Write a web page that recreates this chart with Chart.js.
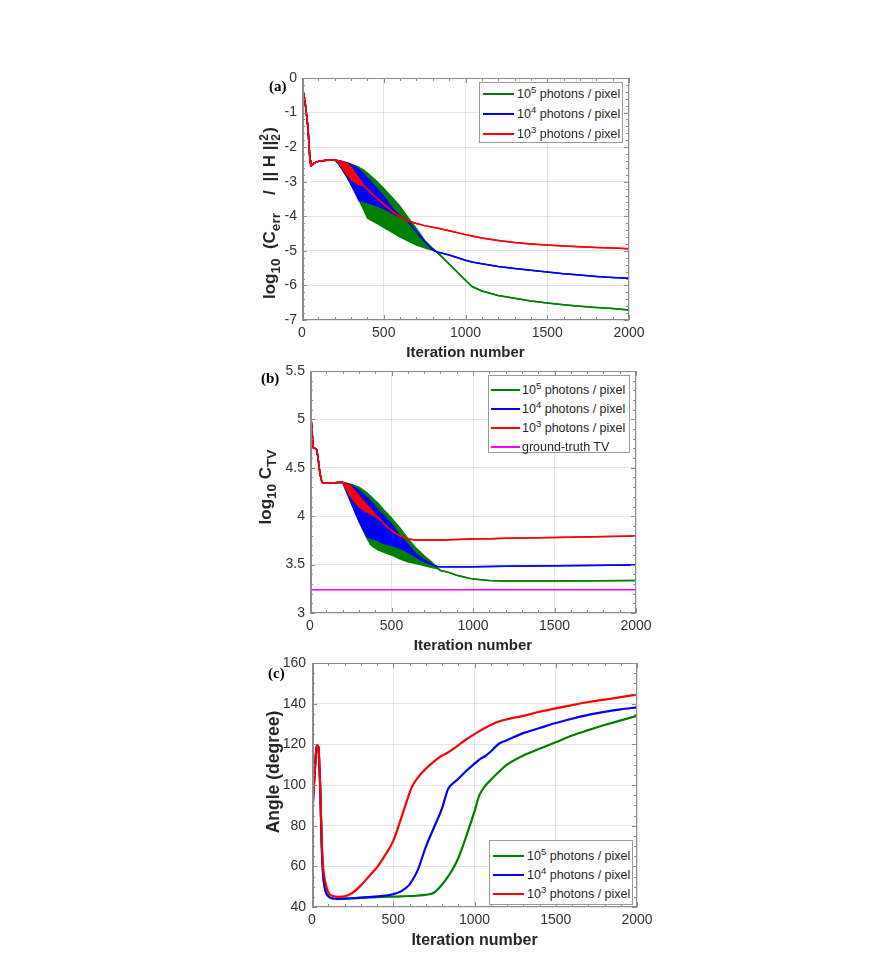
<!DOCTYPE html>
<html><head><meta charset="utf-8">
<script src="https://cdn.jsdelivr.net/npm/chart.js@4.4.1/dist/chart.umd.min.js"></script>
<style>
html,body{margin:0;padding:0;background:#fff;}
body{width:873px;height:953px;position:relative;overflow:hidden;font-family:"Liberation Sans",Arial,sans-serif;}
canvas{position:absolute;}
.legend{position:absolute;background:#fff;border:1px solid #9a9a9a;box-sizing:border-box;font-size:12.5px;color:#262626;}
.row{position:absolute;left:0;right:0;white-space:nowrap;}
.swatch{position:absolute;height:2px;}
.ltxt{position:absolute;}
.sup{font-size:9.5px;position:relative;top:-5px;}
.plabel{position:absolute;font-family:"Liberation Serif","Times New Roman",serif;font-weight:bold;font-size:15px;line-height:18px;color:#000;}
.vt{position:absolute;text-align:center;transform:rotate(-90deg);font-weight:bold;color:#262626;white-space:nowrap;}
.sb{font-size:13.5px;position:relative;top:4.5px;}
.stk{display:inline-block;position:relative;width:8px;height:0;}
.stk span{position:absolute;left:0;font-size:12px;line-height:12px;}
</style></head>
<body>
<script>
// ---------------- DATA ----------------
const seriesColors = ['#008000', '#0000ff', '#ff0000'];
const photonExp = [5, 4, 3];
const xTicksMajor = 500;

// Panel (a): log10(Cerr/||H||^2)
const itA = [0,10,16,26,37,43,49,55,62,75,100,150,200,225,250,275,300,325,350,375,400,450,500,550,600,640,700,750,800,825,900,1000,1040,1100,1200,1300,1400,1500,1600,1700,1800,1900,2000];
const aGreenUp = [-0.25,-0.45,-0.6,-0.98,-1.46,-1.95,-2.4,-2.54,-2.52,-2.46,-2.41,-2.38,-2.37,-2.39,-2.43,-2.46,-2.5,-2.54,-2.59,-2.66,-2.75,-2.96,-3.2,-3.45,-3.72,-3.98,-4.36,-4.7,-4.93,-5.03,-5.38,-5.85,-6.03,-6.16,-6.29,-6.37,-6.45,-6.51,-6.56,-6.6,-6.64,-6.67,-6.71];
const aGreenLo = [-0.25,-0.45,-0.6,-0.98,-1.46,-1.95,-2.4,-2.54,-2.52,-2.46,-2.41,-2.38,-2.37,-2.49,-2.67,-2.86,-3.08,-3.31,-3.55,-3.78,-4.05,-4.18,-4.32,-4.46,-4.6,-4.69,-4.83,-4.91,-4.98,-5.03,-5.38,-5.85,-6.03,-6.16,-6.29,-6.37,-6.45,-6.51,-6.56,-6.6,-6.64,-6.67,-6.71];
const aBlueUp = [-0.25,-0.45,-0.6,-0.98,-1.46,-1.95,-2.4,-2.54,-2.52,-2.46,-2.41,-2.38,-2.37,-2.39,-2.42,-2.45,-2.5,-2.57,-2.65,-2.76,-2.9,-3.15,-3.42,-3.75,-4.0,-4.11,-4.45,-4.72,-4.97,-5.03,-5.12,-5.27,-5.32,-5.37,-5.45,-5.51,-5.56,-5.61,-5.66,-5.7,-5.74,-5.77,-5.79];
const aBlueLo = [-0.25,-0.45,-0.6,-0.98,-1.46,-1.95,-2.4,-2.54,-2.52,-2.46,-2.41,-2.38,-2.37,-2.49,-2.67,-2.86,-3.08,-3.31,-3.55,-3.57,-3.6,-3.68,-3.78,-3.9,-4.02,-4.11,-4.45,-4.72,-4.97,-5.03,-5.12,-5.27,-5.32,-5.37,-5.45,-5.51,-5.56,-5.61,-5.66,-5.7,-5.74,-5.77,-5.79];
const aRedUp = [-0.25,-0.45,-0.6,-0.98,-1.46,-1.95,-2.4,-2.54,-2.52,-2.46,-2.41,-2.38,-2.37,-2.39,-2.42,-2.47,-2.58,-2.75,-2.92,-3.1,-3.22,-3.45,-3.65,-3.85,-4.02,-4.12,-4.21,-4.27,-4.32,-4.34,-4.42,-4.53,-4.57,-4.63,-4.7,-4.76,-4.8,-4.83,-4.86,-4.88,-4.9,-4.92,-4.94];
const aRedLo = [-0.25,-0.45,-0.6,-0.98,-1.46,-1.95,-2.4,-2.54,-2.52,-2.46,-2.41,-2.38,-2.37,-2.45,-2.62,-2.8,-2.93,-3.02,-3.08,-3.12,-3.22,-3.45,-3.65,-3.85,-4.02,-4.12,-4.21,-4.27,-4.32,-4.34,-4.42,-4.53,-4.57,-4.63,-4.7,-4.76,-4.8,-4.83,-4.86,-4.88,-4.9,-4.92,-4.94];

// Panel (b): log10 C_TV
const itB = [0,6,10,14,20,30,40,45,51,61,72,82,100,150,200,250,300,350,375,400,420,450,500,550,600,650,700,750,780,800,850,900,950,1000,1100,1200,1500,2000];
const bGreenUp = [5.26,5.02,4.94,4.84,4.71,4.7,4.69,4.65,4.58,4.44,4.36,4.34,4.34,4.345,4.35,4.33,4.3,4.24,4.2,4.16,4.13,4.07,3.98,3.88,3.77,3.67,3.59,3.52,3.47,3.44,3.42,3.39,3.37,3.35,3.335,3.33,3.33,3.335];
const bGreenLo = [5.26,5.02,4.94,4.84,4.71,4.7,4.69,4.65,4.58,4.44,4.36,4.34,4.34,4.345,4.35,4.15,3.95,3.77,3.7,3.67,3.65,3.63,3.6,3.56,3.53,3.51,3.49,3.47,3.46,3.44,3.42,3.39,3.37,3.35,3.335,3.33,3.33,3.335];
const bBlueUp = [5.26,5.02,4.94,4.84,4.71,4.7,4.69,4.65,4.58,4.44,4.36,4.34,4.34,4.345,4.35,4.32,4.27,4.19,4.15,4.1,4.06,4.01,3.92,3.8,3.71,3.61,3.55,3.5,3.48,3.478,3.477,3.477,3.477,3.478,3.48,3.482,3.487,3.495];
const bBlueLo = [5.26,5.02,4.94,4.84,4.71,4.7,4.69,4.65,4.58,4.44,4.36,4.34,4.34,4.345,4.35,4.15,3.95,3.79,3.77,3.76,3.745,3.72,3.7,3.67,3.63,3.58,3.53,3.5,3.48,3.478,3.477,3.477,3.477,3.478,3.48,3.482,3.487,3.495];
const bRedUp = [5.26,5.02,4.94,4.84,4.71,4.7,4.69,4.65,4.58,4.44,4.36,4.34,4.34,4.345,4.35,4.31,4.21,4.11,4.07,4.02,3.98,3.93,3.85,3.8,3.765,3.755,3.755,3.755,3.755,3.755,3.757,3.76,3.762,3.765,3.768,3.771,3.78,3.795];
const bRedLo = [5.26,5.02,4.94,4.84,4.71,4.7,4.69,4.65,4.58,4.44,4.36,4.34,4.34,4.345,4.35,4.2,4.1,4.04,4.02,4.0,3.98,3.93,3.85,3.8,3.765,3.755,3.755,3.755,3.755,3.755,3.757,3.76,3.762,3.765,3.768,3.771,3.78,3.795];
const groundTruthTV = 3.24;

// Panel (c): Angle (degree)
const itC = [0,8,15,22,28,33,40,45,50,55,60,66,72,80,90,107,130,160,200,250,300,350,400,450,500,550,600,612,650,700,750,800,837,850,900,950,1000,1030,1070,1100,1150,1200,1300,1400,1500,1600,1700,1800,1900,2000];
const cGreen = [82,95,104,113,118.5,119.5,118.5,110,100,85,70,59,53,49,46.5,44.8,44.2,44,44.1,44.3,44.5,44.7,44.9,45,45.1,45.2,45.4,45.4,45.6,46,47,51,55,56.5,64,75,87,95,100,102.5,106.5,110,114.5,117.8,121,124.3,127,129.5,131.8,134];
const cBlue = [82,95,104,113,118.5,119.5,118.5,110,100,85,70,59,53,49,46.5,44.8,44.2,44,44.1,44.3,44.6,44.9,45.2,45.6,46.3,47.8,51,52.5,58,69.5,79,88.5,98,99.5,103,107,110.5,112.5,114.5,116.5,120.3,122,125.5,128,130.5,132.6,134.5,136,137.2,138.2];
const cRed = [82,95,104,113,118.5,119.5,118.5,110,100,86,72,62,57,53,49.5,46.5,45.4,45,45.2,47,50.5,55,59.5,65.5,72.5,84,96,98.6,103.5,108,111.5,114.5,116,116.7,119.5,122.5,125,126.5,128.3,129.5,131.2,132.3,134,136,137.7,139.3,140.8,142,143.2,144.5];

// ---------------- HELPERS ----------------
const FONT = '"Liberation Sans", Arial, sans-serif';
function pts(xs, ys) { return xs.map((x, i) => ({x: x, y: ys[i]})); }
const fmt = v => String(Math.round(v * 1000) / 1000);

const boxTicks = {
  id: 'boxTicks',
  afterDatasetsDraw(chart, args, opts) {
    const ctx = chart.ctx, a = chart.chartArea, x = chart.scales.x, y = chart.scales.y;
    ctx.save();
    ctx.strokeStyle = '#8c8c8c';
    ctx.lineWidth = 1;
    ctx.beginPath();
    for (let v = x.min; v <= x.max + 1e-9; v += opts.xMinor) {
      const px = Math.round(x.getPixelForValue(v)) + 0.5;
      const major = Math.abs(v / opts.xMajor - Math.round(v / opts.xMajor)) < 1e-6;
      const L = major ? 5 : 3;
      ctx.moveTo(px, a.bottom); ctx.lineTo(px, a.bottom - L);
      ctx.moveTo(px, a.top); ctx.lineTo(px, a.top + L);
    }
    const n = Math.round((y.max - y.min) / opts.yMinor);
    for (let k = 0; k <= n; k++) {
      const v = y.min + k * opts.yMinor;
      const py = Math.round(y.getPixelForValue(v)) + 0.5;
      const major = Math.abs((v - y.min) / opts.yMajor - Math.round((v - y.min) / opts.yMajor)) < 1e-6;
      const L = major ? 5 : 3;
      ctx.moveTo(a.left, py); ctx.lineTo(a.left + L, py);
      ctx.moveTo(a.right, py); ctx.lineTo(a.right - L, py);
    }
    ctx.stroke();
    ctx.strokeRect(Math.round(a.left) + 0.5, Math.round(a.top) + 0.5, Math.round(a.right - a.left) - 1, Math.round(a.bottom - a.top) - 1);
    ctx.lineWidth = 2;
    ctx.beginPath();
    ctx.moveTo(Math.round(a.left) + 1, a.top); ctx.lineTo(Math.round(a.left) + 1, a.bottom);
    ctx.stroke();
    ctx.restore();
  }
};

function makeChart(cfg) {
  const cv = document.createElement('canvas');
  cv.width = cfg.w; cv.height = cfg.h;
  cv.style.left = cfg.left + 'px'; cv.style.top = cfg.top + 'px';
  cv.style.width = cfg.w + 'px'; cv.style.height = cfg.h + 'px';
  document.body.appendChild(cv);
  return new Chart(cv.getContext('2d'), {
    type: 'line',
    data: {datasets: cfg.datasets},
    plugins: [boxTicks],
    options: {
      responsive: false, animation: false, devicePixelRatio: 1,
      layout: {padding: {left: 0, top: cfg.padTop, right: cfg.padRight, bottom: 0}},
      elements: {point: {radius: 0, hoverRadius: 0}, line: {tension: 0, borderJoinStyle: 'round', borderCapStyle: 'round'}},
      plugins: {legend: {display: false}, tooltip: {enabled: false},
        boxTicks: {xMinor: 100, xMajor: xTicksMajor, yMinor: cfg.yMinor, yMajor: cfg.yStep}},
      events: [],
      scales: {
        x: {type: 'linear', min: 0, max: 2000,
          ticks: {stepSize: xTicksMajor, font: {family: FONT, size: 14}, color: '#333', padding: 5, maxRotation: 0, callback: fmt},
          grid: {color: 'rgba(0,0,0,0.10)', drawTicks: false},
          border: {display: false},
          title: {display: true, text: 'Iteration number', color: '#262626', padding: {top: 0, bottom: 0},
            font: {family: FONT, size: cfg.xTitleSize, weight: 'bold'}},
          afterFit: s => { s.height = cfg.xAxisH; }
        },
        y: {type: 'linear', min: cfg.yMin, max: cfg.yMax,
          ticks: {stepSize: cfg.yStep, font: {family: FONT, size: 14}, color: '#333', padding: cfg.yPad, callback: fmt},
          grid: {color: 'rgba(0,0,0,0.10)', drawTicks: false},
          border: {display: false},
          afterFit: s => { s.width = cfg.yAxisW; }
        }
      }
    }
  });
}

function bandSets(xs, lists, lw) {
  const ds = [];
  lists.forEach(([up, lo, col]) => {
    ds.push({data: pts(xs, lo), borderColor: col, borderWidth: lw, fill: false});
    ds.push({data: pts(xs, up), borderColor: col, borderWidth: lw, backgroundColor: col, fill: '-1'});
  });
  return ds;
}

function addLegend(L, labels, colors) {
  const d = document.createElement('div');
  d.className = 'legend';
  Object.assign(d.style, {left: L.left + 'px', top: L.top + 'px', width: L.width + 'px', height: L.height + 'px'});
  labels.forEach((lab, i) => {
    const r = document.createElement('div');
    r.className = 'row';
    Object.assign(r.style, {top: (L.row0 + i * L.rowH) + 'px', height: L.rowH + 'px', lineHeight: L.rowH + 'px'});
    const sw = document.createElement('div');
    sw.className = 'swatch';
    Object.assign(sw.style, {left: L.lineX + 'px', width: L.lineW + 'px', top: (L.rowH / 2 - 1) + 'px', background: colors[i]});
    const t = document.createElement('div');
    t.className = 'ltxt';
    t.style.left = L.textX + 'px';
    if (typeof lab === 'number') {
      t.appendChild(document.createTextNode('10'));
      const s = document.createElement('span'); s.className = 'sup'; s.textContent = String(lab);
      t.appendChild(s);
      t.appendChild(document.createTextNode(' photons / pixel'));
    } else {
      t.textContent = lab;
    }
    r.appendChild(sw); r.appendChild(t); d.appendChild(r);
  });
  document.body.appendChild(d);
}

function addVTitle(html, cx, cy, fs) {
  const W = 260, H = 22;
  const d = document.createElement('div');
  d.className = 'vt';
  Object.assign(d.style, {left: (cx - W / 2) + 'px', top: (cy - H / 2) + 'px', width: W + 'px', height: H + 'px',
    lineHeight: H + 'px', fontSize: fs + 'px'});
  d.innerHTML = html;
  document.body.appendChild(d);
}

function addPanelLabel(txt, left, top) {
  const d = document.createElement('div');
  d.className = 'plabel';
  d.style.left = left + 'px'; d.style.top = top + 'px';
  d.textContent = txt;
  document.body.appendChild(d);
}

// ---------------- PANEL (a) ----------------
makeChart({left: 240, top: 60, w: 410, h: 302, padTop: 18, padRight: 21, yAxisW: 62, xAxisH: 42, yPad: 5,
  yMin: -7, yMax: 0, yStep: 1, yMinor: 0.2, xTitleSize: 15,
  datasets: bandSets(itA, [[aRedUp, aRedLo, seriesColors[2]], [aBlueUp, aBlueLo, seriesColors[1]], [aGreenUp, aGreenLo, seriesColors[0]]], 1.5)});

// ---------------- PANEL (b) ----------------
const bSets = [{data: [{x: 0, y: groundTruthTV}, {x: 2000, y: groundTruthTV}], borderColor: '#ff00ff', borderWidth: 1.5, fill: false}]
  .concat(bandSets(itB, [[bRedUp, bRedLo, seriesColors[2]], [bBlueUp, bBlueLo, seriesColors[1]], [bGreenUp, bGreenLo, seriesColors[0]]], 1.5));
makeChart({left: 248, top: 353, w: 410, h: 302, padTop: 18, padRight: 22, yAxisW: 62, xAxisH: 42, yPad: 5,
  yMin: 3, yMax: 5.5, yStep: 0.5, yMinor: 0.1, xTitleSize: 15, datasets: bSets});

// ---------------- PANEL (c) ----------------
makeChart({left: 250, top: 645, w: 410, h: 305, padTop: 18, padRight: 23, yAxisW: 62, xAxisH: 43, yPad: 6,
  yMin: 40, yMax: 160, yStep: 20, yMinor: 5, xTitleSize: 16,
  datasets: [
    {data: pts(itC, cRed), borderColor: seriesColors[2], borderWidth: 2.2, fill: false, cubicInterpolationMode: 'monotone'},
    {data: pts(itC, cBlue), borderColor: seriesColors[1], borderWidth: 2.2, fill: false, cubicInterpolationMode: 'monotone'},
    {data: pts(itC, cGreen), borderColor: seriesColors[0], borderWidth: 2.2, fill: false, cubicInterpolationMode: 'monotone'}
  ]});

// ---------------- LEGENDS / LABELS ----------------
addLegend({left: 479, top: 82, width: 144, height: 61, row0: 1, rowH: 20, lineX: 3, lineW: 31, textX: 37}, photonExp, seriesColors);
addLegend({left: 488, top: 375, width: 142, height: 78, row0: 4.5, rowH: 19, lineX: 2, lineW: 29, textX: 33},
  photonExp.concat(['ground-truth TV']), seriesColors.concat(['#ff00ff']));
addLegend({left: 489, top: 840, width: 144, height: 65, row0: 5.5, rowH: 19, lineX: 3, lineW: 31, textX: 37}, photonExp, seriesColors);

addVTitle('log<span class="sb">10</span>&nbsp;&nbsp;(C<span class="sb">err</span><span style="margin-left:18px">/</span><span style="margin-left:9px">||&nbsp;H&nbsp;||</span><span class="stk"><span style="top:-17px">2</span><span style="top:-5px">2</span></span>)', 270, 213, 17);
addVTitle('log<span class="sb">10</span>&nbsp;C<span class="sb">TV</span>', 265.5, 487, 17);
addVTitle('Angle (degree)', 273, 772, 17.5);

addPanelLabel('(a)', 269, 77);
addPanelLabel('(b)', 261, 369);
addPanelLabel('(c)', 268, 664);
</script>
</body></html>
